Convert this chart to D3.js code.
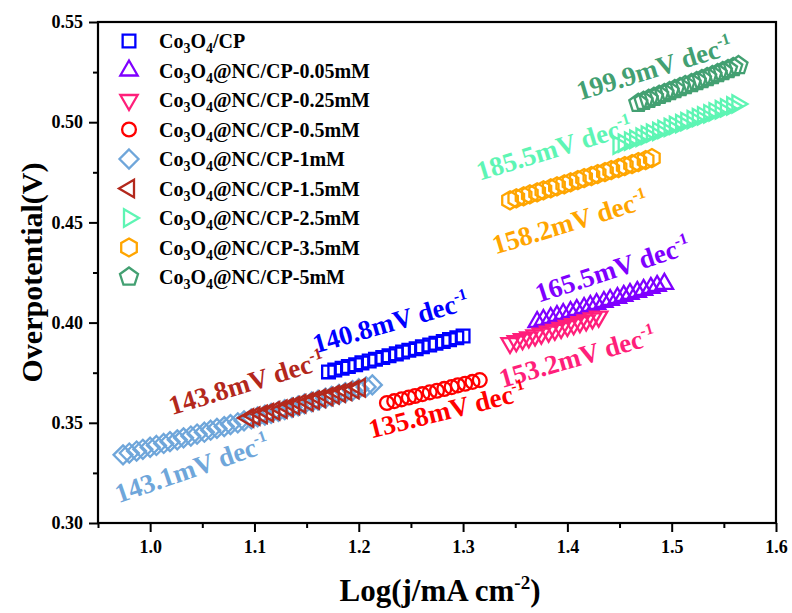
<!DOCTYPE html>
<html>
<head>
<meta charset="utf-8">
<script src="https://cdn.jsdelivr.net/npm/d3@7"></script>
<style>
  body { margin: 0; background: #fff; }
  text { font-family: "Liberation Serif", "Times New Roman", serif; font-weight: bold; }
</style>
</head>
<body>
<div id="chart"></div>
<script>
var svgWidth = 792;
var svgHeight = 613;

// ---- data ----
var seriesNames = ["Co3O4/CP", "Co3O4@NC/CP-0.05mM", "Co3O4@NC/CP-0.25mM", "Co3O4@NC/CP-0.5mM",
  "Co3O4@NC/CP-1mM", "Co3O4@NC/CP-1.5mM", "Co3O4@NC/CP-2.5mM", "Co3O4@NC/CP-3.5mM", "Co3O4@NC/CP-5mM"];
var seriesColors = ["#0000ff", "#7f00ff", "#ff1f7a", "#ff0000", "#6fa6da", "#b3281c", "#5ef5b4", "#ffa500", "#43a072"];
var seriesShapes = ["square", "triUp", "triDown", "circle", "diamond", "triLeft", "triRight", "hexagon", "pentagon"];

var cpX = [1.171, 1.177, 1.184, 1.190, 1.197, 1.203, 1.210, 1.216, 1.223, 1.229, 1.236, 1.242, 1.248, 1.255, 1.261, 1.268, 1.274, 1.281, 1.287, 1.294, 1.300];
var cpY = [0.3754, 0.3763, 0.3772, 0.3781, 0.3790, 0.3799, 0.3808, 0.3817, 0.3826, 0.3835, 0.3844, 0.3853, 0.3862, 0.3870, 0.3879, 0.3888, 0.3897, 0.3906, 0.3915, 0.3924, 0.3933];

var nc005X = [1.371, 1.377, 1.384, 1.390, 1.396, 1.403, 1.409, 1.416, 1.422, 1.428, 1.435, 1.441, 1.448, 1.454, 1.460, 1.467, 1.473, 1.480, 1.486, 1.493];
var nc005Y = [0.4003, 0.4013, 0.4023, 0.4033, 0.4043, 0.4053, 0.4063, 0.4073, 0.4083, 0.4093, 0.4103, 0.4113, 0.4123, 0.4133, 0.4143, 0.4153, 0.4163, 0.4173, 0.4183, 0.4193];

var nc025X = [1.345, 1.351, 1.357, 1.363, 1.369, 1.375, 1.382, 1.388, 1.394, 1.400, 1.406, 1.412, 1.418, 1.424, 1.430];
var nc025Y = [0.3898, 0.3907, 0.3917, 0.3926, 0.3936, 0.3945, 0.3955, 0.3964, 0.3973, 0.3983, 0.3992, 0.4002, 0.4011, 0.4021, 0.4030];

var nc05X = [1.227, 1.234, 1.241, 1.248, 1.254, 1.261, 1.268, 1.275, 1.282, 1.289, 1.295, 1.302, 1.309, 1.316];
var nc05Y = [0.3599, 0.3608, 0.3617, 0.3626, 0.3634, 0.3643, 0.3652, 0.3660, 0.3669, 0.3678, 0.3687, 0.3695, 0.3704, 0.3713];

var nc1X = [0.974, 0.980, 0.987, 0.993, 1.000, 1.006, 1.013, 1.019, 1.026, 1.032, 1.039, 1.045, 1.052, 1.058, 1.064, 1.071, 1.077, 1.084, 1.090,
  1.097, 1.103, 1.110, 1.116, 1.123, 1.129, 1.136, 1.142, 1.148, 1.155, 1.161, 1.168, 1.174, 1.181, 1.187, 1.194, 1.200, 1.207, 1.213];
var nc1Y = [0.3340, 0.3349, 0.3359, 0.3368, 0.3378, 0.3387, 0.3397, 0.3406, 0.3415, 0.3425, 0.3434, 0.3444, 0.3453, 0.3463, 0.3472, 0.3481, 0.3491, 0.3500, 0.3510,
  0.3519, 0.3529, 0.3538, 0.3547, 0.3557, 0.3566, 0.3576, 0.3585, 0.3595, 0.3604, 0.3613, 0.3623, 0.3632, 0.3642, 0.3651, 0.3661, 0.3670, 0.3679, 0.3689];

var nc15X = [1.094, 1.100, 1.107, 1.113, 1.119, 1.126, 1.132, 1.138, 1.144, 1.151, 1.157, 1.163, 1.170, 1.176, 1.182, 1.188, 1.195, 1.201];
var nc15Y = [0.3524, 0.3533, 0.3542, 0.3551, 0.3560, 0.3568, 0.3577, 0.3586, 0.3595, 0.3604, 0.3613, 0.3622, 0.3631, 0.3640, 0.3648, 0.3657, 0.3666, 0.3675];

var nc25X = [1.449, 1.454, 1.460, 1.465, 1.471, 1.476, 1.481, 1.487, 1.492, 1.498, 1.503, 1.509, 1.514, 1.520, 1.525, 1.530, 1.536, 1.541, 1.547, 1.552, 1.558, 1.563];
var nc25Y = [0.4886, 0.4896, 0.4906, 0.4915, 0.4925, 0.4935, 0.4945, 0.4954, 0.4964, 0.4974, 0.4984, 0.4993, 0.5003, 0.5013, 0.5023, 0.5032, 0.5042, 0.5052, 0.5062, 0.5071, 0.5081, 0.5091];

var nc35X = [1.345, 1.351, 1.358, 1.364, 1.371, 1.377, 1.384, 1.390, 1.397, 1.403, 1.410, 1.416, 1.423, 1.429, 1.436, 1.442, 1.449, 1.455, 1.462, 1.468, 1.475, 1.481];
var nc35Y = [0.4610, 0.4620, 0.4630, 0.4640, 0.4650, 0.4660, 0.4670, 0.4680, 0.4690, 0.4700, 0.4711, 0.4721, 0.4731, 0.4741, 0.4751, 0.4761, 0.4771, 0.4781, 0.4791, 0.4801, 0.4811, 0.4821];

var nc5X = [1.468, 1.473, 1.478, 1.483, 1.488, 1.493, 1.498, 1.503, 1.508, 1.513, 1.519, 1.524, 1.529, 1.534, 1.539, 1.544, 1.549, 1.554, 1.559, 1.564];
var nc5Y = [0.5095, 0.5105, 0.5115, 0.5125, 0.5135, 0.5144, 0.5154, 0.5164, 0.5174, 0.5184, 0.5194, 0.5204, 0.5214, 0.5224, 0.5233, 0.5243, 0.5253, 0.5263, 0.5273, 0.5283];

var seriesX = [cpX, nc005X, nc025X, nc05X, nc1X, nc15X, nc25X, nc35X, nc5X];
var seriesY = [cpY, nc005Y, nc025Y, nc05Y, nc1Y, nc15Y, nc25Y, nc35Y, nc5Y];

// Tafel slope labels (one per series, baseline centre in data units)
var slopeText = ["140.8", "165.5", "153.2", "135.8", "143.1", "143.8", "185.5", "158.2", "199.9"];
var slopeX = [1.233, 1.446, 1.412, 1.287, 1.043, 1.095, 1.390, 1.405, 1.486];
var slopeY = [0.3958, 0.4223, 0.3785, 0.3519, 0.3230, 0.3655, 0.4826, 0.4457, 0.5226];
var slopeAngle = [-16, -18, -16, -14, -19, -17, -17, -17, -17];

var xTicks = [1.0, 1.1, 1.2, 1.3, 1.4, 1.5, 1.6];
var yTicks = [0.30, 0.35, 0.40, 0.45, 0.50, 0.55];

// ---- layout ----
var margin = { top: 22, right: 16, bottom: 90, left: 98 };
var width = svgWidth - margin.left - margin.right;
var height = svgHeight - margin.top - margin.bottom;

var svg = d3.select("#chart")
  .append("svg")
  .attr("width", svgWidth)
  .attr("height", svgHeight);

var chartGroup = svg.append("g")
  .attr("transform", `translate(${margin.left}, ${margin.top})`);

var xScale = d3.scaleLinear().domain([0.95, 1.6]).range([0, width]);
var yScale = d3.scaleLinear().domain([0.30, 0.55]).range([height, 0]);

// minor ticks
var xMinor = d3.range(0.95, 1.6, 0.1).map(d => +d.toFixed(2));
var yMinor = d3.range(0.325, 0.55, 0.05).map(d => +d.toFixed(3));

var xMinorAxis = chartGroup.append("g")
  .attr("transform", `translate(0, ${height})`)
  .call(d3.axisBottom(xScale).tickValues(xMinor).tickSize(5).tickFormat(""));
var yMinorAxis = chartGroup.append("g")
  .call(d3.axisLeft(yScale).tickValues(yMinor).tickSize(5).tickFormat(""));

var xAxisGroup = chartGroup.append("g")
  .attr("transform", `translate(0, ${height})`)
  .call(d3.axisBottom(xScale).tickValues(xTicks).tickSize(9).tickPadding(8).tickFormat(d3.format(".1f")));
var yAxisGroup = chartGroup.append("g")
  .call(d3.axisLeft(yScale).tickValues(yTicks).tickSize(9).tickPadding(6).tickFormat(d3.format(".2f")));

[xMinorAxis, yMinorAxis, xAxisGroup, yAxisGroup].forEach(function(g) {
  g.select(".domain").remove();
  g.selectAll("line").attr("stroke", "#000").attr("stroke-width", 2);
  g.selectAll("text").attr("font-size", 18).attr("fill", "#000")
    .style("font-family", "'Liberation Serif', serif").style("font-weight", "bold");
});

// frame
chartGroup.append("rect")
  .attr("x", 0).attr("y", 0)
  .attr("width", width).attr("height", height)
  .attr("fill", "none")
  .attr("stroke", "#000")
  .attr("stroke-width", 2.2);

// ---- marker shapes ----
function polygon(n, r, rot) {
  var pts = d3.range(n).map(function(i) {
    var a = rot + i * 2 * Math.PI / n;
    return [r * Math.sin(a), -r * Math.cos(a)];
  });
  return d3.line().curve(d3.curveLinearClosed)(pts);
}

function shapePath(shape) {
  switch (shape) {
    case "square": return polygon(4, 9, Math.PI / 4);
    case "diamond": return polygon(4, 9.5, 0);
    case "triUp": return polygon(3, 10, 0);
    case "triDown": return polygon(3, 10, Math.PI);
    case "triLeft": return polygon(3, 10, -Math.PI / 2);
    case "triRight": return polygon(3, 10, Math.PI / 2);
    case "hexagon": return polygon(6, 9, 0);
    case "pentagon": return polygon(5, 9.5, 0);
    default: return d3.symbol().type(d3.symbolCircle).size(150)();
  }
}

// ---- scatter markers ----
seriesNames.forEach(function(name, i) {
  var pts = seriesX[i].map((x, j) => ({ x: x, y: seriesY[i][j] }));
  chartGroup.append("g")
    .selectAll("path")
    .data(pts)
    .enter()
    .append("path")
    .attr("d", shapePath(seriesShapes[i]))
    .attr("transform", d => `translate(${xScale(d.x)}, ${yScale(d.y)})`)
    .attr("fill", "none")
    .attr("stroke", seriesColors[i])
    .attr("stroke-width", 2.3);
});

// ---- slope labels ----
slopeText.forEach(function(t, i) {
  var txt = chartGroup.append("text")
    .attr("transform", `translate(${xScale(slopeX[i])}, ${yScale(slopeY[i])}) rotate(${slopeAngle[i]})`)
    .attr("text-anchor", "middle")
    .attr("font-size", 27)
    .attr("fill", seriesColors[i]);
  txt.append("tspan").text(t + "mV dec");
  txt.append("tspan").attr("dy", -11).attr("font-size", 16).text("-1");
});

// ---- legend ----
var legend = chartGroup.append("g").attr("transform", "translate(31, 19)");
seriesNames.forEach(function(name, i) {
  var row = legend.append("g").attr("transform", `translate(0, ${i * 29.5})`);
  row.append("path")
    .attr("d", shapePath(seriesShapes[i]))
    .attr("fill", "none")
    .attr("stroke", seriesColors[i])
    .attr("stroke-width", 2.3);
  var label = row.append("text")
    .attr("x", 30)
    .attr("y", 7)
    .attr("font-size", 20)
    .attr("fill", "#000");
  var rest = name.replace("Co3O4", "");
  label.append("tspan").text("Co");
  label.append("tspan").attr("dy", 5).attr("font-size", 14).text("3");
  label.append("tspan").attr("dy", -5).text("O");
  label.append("tspan").attr("dy", 5).attr("font-size", 14).text("4");
  label.append("tspan").attr("dy", -5).text(rest);
});

// ---- axis titles ----
var xTitle = svg.append("text")
  .attr("x", 440)
  .attr("y", 601)
  .attr("text-anchor", "middle")
  .attr("font-size", 31)
  .attr("fill", "#000");
xTitle.append("tspan").text("Log(j/mA cm");
xTitle.append("tspan").attr("dy", -12).attr("font-size", 19).text("-2");
xTitle.append("tspan").attr("dy", 12).text(")");

svg.append("text")
  .attr("transform", `translate(42, ${margin.top + height / 2}) rotate(-90)`)
  .attr("text-anchor", "middle")
  .attr("font-size", 30)
  .attr("fill", "#000")
  .text("Overpotential(V)");
</script>
</body>
</html>
